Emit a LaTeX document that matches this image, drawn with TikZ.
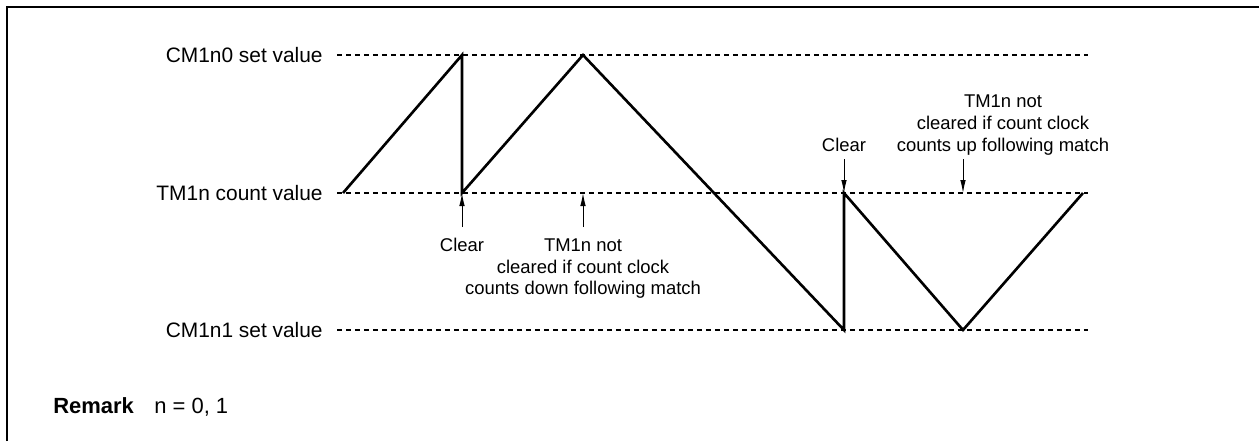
\documentclass[tikz,border=0pt]{standalone}
\usepackage{fontspec}
\setmainfont{Liberation Sans}
\usetikzlibrary{arrows.meta}

\begin{document}
\begin{tikzpicture}[
        x=0.02cm, y=-0.02cm,
        levellabel/.style={anchor=east, inner sep=0pt, font=\fontsize{11.9}{14}\selectfont},
        notetext/.style={inner sep=0pt, align=center, font=\fontsize{10.5}{12.5}\selectfont},
        guide/.style={line width=0.6pt, dash pattern=on 0.1cm off 0.08cm},
        wave/.style={line width=1.5pt, line join=miter},
        pointer/.style={-{Latex[length=2.6mm, width=1.1mm]}, line width=0.55pt}
    ]
        \useasboundingbox (0,0) rectangle (1259,441);
        \draw[line width=1.6pt] (7,441) -- (7,7) -- (1259,7);

        % levels
        \node[levellabel] (cmZero) at (323,55) {CM1n0 set value};
        \node[levellabel] (tmCount) at (323,193) {TM1n count value};
        \node[levellabel] (cmOne) at (323,330) {CM1n1 set value};
        \coordinate (topEnd) at (1088,55);
        \coordinate (midEnd) at (1088,193);
        \coordinate (lowEnd) at (1088,330);
        \draw[guide] (337,55) -- (topEnd);
        \draw[guide] (337,193) -- (midEnd);
        \draw[guide] (337,330) -- (lowEnd);

        % count waveform
        \coordinate (w0) at (343,193);
        \coordinate (w1) at (462,55);
        \coordinate (w2) at (462,193);
        \coordinate (w3) at (583,55);
        \coordinate (w4) at (844,330);
        \coordinate (w5) at (844,193);
        \coordinate (w6) at (963,330);
        \coordinate (w7) at (1083,193);
        \coordinate (noClearDown) at (583,193);
        \coordinate (noClearUp) at (963,193);
        \draw[wave] (w0) -- (w1) -- (w2) -- (w3) -- (w4) -- (w5) -- (w6) -- (w7);

        % notes below
        \node[notetext, anchor=north] (clearLeft) at (462,238) {Clear};
        \node[notetext, anchor=north] (downNote) at (583,238)
            {TM1n not\\cleared if count clock\\counts down following match};
        \draw[pointer, shorten <=0.22cm] (clearLeft.north) -- (w2);
        \draw[pointer, shorten <=0.22cm] (downNote.north) -- (noClearDown);

        % notes above
        \node[notetext, anchor=base] (clearRight) at (844,151.5) {Clear};
        \node[notetext, anchor=south] (upNote) at (1003,155.5)
            {TM1n not\\cleared if count clock\\counts up following match};
        \draw[pointer, shorten <=0.15cm] (clearRight.base) -- (w5);
        \draw[pointer, shorten <=0.07cm] (upNote.south -| noClearUp) -- (noClearUp);

        \node[anchor=base west, inner sep=0pt, font=\fontsize{12.5}{15}\bfseries] (remark) at (53,413) {Remark};
        \node[anchor=base west, inner sep=0pt, font=\fontsize{12.5}{15}\selectfont] (nValues) at (154,413) {n = 0, 1};
    \end{tikzpicture}
\end{document}
